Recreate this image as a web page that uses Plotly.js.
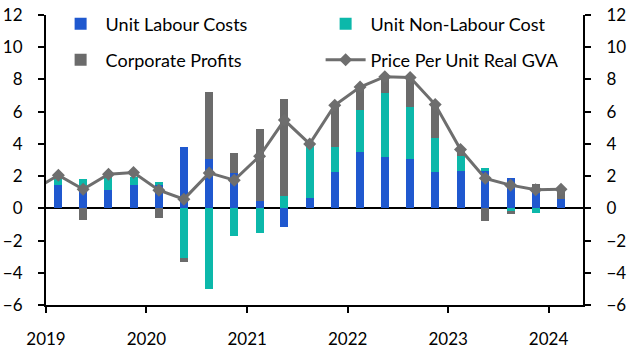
<!DOCTYPE html>
<html>
<head>
<meta charset="utf-8">
<script src="https://cdn.plot.ly/plotly-3.0.1.min.js"></script>
<style>html,body{margin:0;padding:0;background:#fff;}#chart{width:632px;height:357px;}</style>
</head>
<body>
<div id="chart"></div>
<script>
// Quarterly contributions (pp), 2019Q1 - 2024Q1, plotted at quarter midpoints
const quarters = ['2019-02-15','2019-05-16','2019-08-16','2019-11-15',
  '2020-02-15','2020-05-16','2020-08-16','2020-11-15',
  '2021-02-15','2021-05-16','2021-08-16','2021-11-15',
  '2022-02-15','2022-05-16','2022-08-16','2022-11-15',
  '2023-02-15','2023-05-16','2023-08-16','2023-11-15',
  '2024-02-15'];
const unitLabour = [1.44, 1.13, 1.13, 1.44, 1.44, 3.8, 3.05, 2.17, 0.45, -1.14, 0.66, 2.27, 3.5, 3.2, 3.05, 2.27, 2.31, 2.31, 1.88, 0.93, 0.57];
const unitNonLabour = [0.45, 0.68, 0.9, 0.52, 0.19, -3.1, -5.0, -1.7, -1.5, 0.76, 3.22, 1.55, 2.6, 3.95, 3.24, 2.1, 0.95, 0.19, -0.15, -0.31, 0.0];
const corpProfits = [0.0, -0.72, 0.0, 0.0, -0.58, -0.2, 4.15, 1.25, 4.45, 6.04, 0.12, 2.62, 1.45, 1.0, 1.86, 2.03, 0.46, -0.77, -0.22, 0.6, 0.75];
const priceDates = ['2018-11-15'].concat(quarters);
const priceGVA = [1.15, 2.05, 1.18, 2.12, 2.23, 1.13, 0.57, 2.2, 1.75, 3.24, 5.48, 4.0, 6.4, 7.53, 8.17, 8.12, 6.44, 3.65, 1.86, 1.44, 1.15, 1.18];
const yTicks = [-6, -4, -2, 0, 2, 4, 6, 8, 10, 12];
const yearTicks = ['2019-01-01','2020-01-01','2021-01-01','2022-01-01','2023-01-01','2024-01-01'];
const yearLabels = ['2019','2020','2021','2022','2023','2024'];

const barWidth = 29 * 86400000;
const FONT = 'Lato, "Open Sans", sans-serif';

const traces = [
  {type:'bar', name:'Unit Labour Costs', x:quarters, y:unitLabour, width:barWidth, marker:{color:'#1f58cf'}, legend:'legend'},
  {type:'bar', name:'Unit Non-Labour Cost', x:quarters, y:unitNonLabour, width:barWidth, marker:{color:'#0cb8aa'}, legend:'legend'},
  {type:'bar', name:'Corporate Profits', x:quarters, y:corpProfits, width:barWidth, marker:{color:'#6b6b6b'}, legend:'legend2'},
  {type:'scatter', mode:'lines+markers', name:'Price Per Unit Real GVA', x:priceDates, y:priceGVA, yaxis:'y2', legend:'legend2',
   line:{color:'#6e6e6e', width:3}, marker:{symbol:'diamond', size:10, color:'#6e6e6e'}}
];

const legendBase = {orientation:'h', xref:'container', yref:'container', x:0.088, xanchor:'left', yanchor:'middle',
    entrywidth:210, entrywidthmode:'pixels', traceorder:'normal',
    font:{family:FONT, size:18, color:'#000'}, bgcolor:'rgba(0,0,0,0)', itemwidth:40};

const axisCommon = {ticks:'outside', ticklen:6, tickwidth:2, tickcolor:'#000',
    showline:true, linecolor:'#000', linewidth:2, showgrid:false,
    ticklabelstandoff:12, tickfont:{family:FONT, size:17, color:'#000'}};

const layout = {
  width:632, height:357,
  margin:{l:46, r:49, t:15, b:52, autoexpand:false},
  paper_bgcolor:'#fff', plot_bgcolor:'#fff',
  barmode:'relative', bargap:0,
  font:{family:FONT, size:17, color:'#000'},
  showlegend:true,
  legend:Object.assign({}, legendBase, {y:1 - 24/357}),
  legend2:Object.assign({}, legendBase, {y:1 - 60/357}),
  xaxis:Object.assign({}, axisCommon, {type:'date', range:['2019-01-01','2024-05-05'],
    tickvals:yearTicks, ticktext:yearLabels, zeroline:false}),
  yaxis:Object.assign({}, axisCommon, {range:[-6,12], tickvals:yTicks,
    zeroline:true, zerolinecolor:'#000', zerolinewidth:2}),
  yaxis2:Object.assign({}, axisCommon, {range:[-6,12], tickvals:yTicks, overlaying:'y', side:'right', zeroline:false})
};

Plotly.newPlot('chart', traces, layout, {staticPlot:true, displayModeBar:false});
</script>
</body>
</html>
